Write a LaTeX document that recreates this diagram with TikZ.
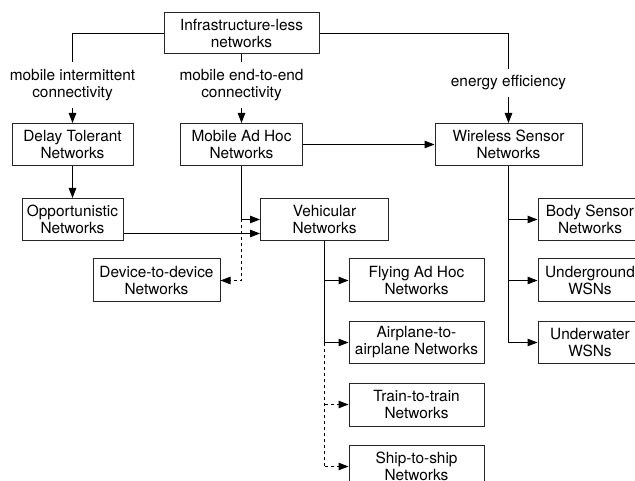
\documentclass[tikz,border=0pt]{standalone}
\usepackage{fontspec}
\setmainfont{TeX Gyre Heros}
\usetikzlibrary{arrows.meta}
\begin{document}
\begin{tikzpicture}[x=1pt,y=-1pt,
  every node/.style={font=\fontsize{15.4}{17}\selectfont, align=center, text=black},
  box/.style={draw=black!85, line width=1pt, inner sep=0pt},
  tag/.style={inner sep=0pt},
  link/.style={line width=1pt, draw=black},
  tip/.style={-{Triangle[length=10pt,width=7.5pt]}},
  arr/.style={link, tip},
  dsh/.style={dash pattern=on 3pt off 3pt}]
\path[use as bounding box, clip] (0,0) rectangle (635,481);

% boxes
\node[box, minimum width=155pt, minimum height=41pt] (infra) at (241.5,33.5) {Infrastructure-less\\networks};
\node[box, minimum width=121pt, minimum height=42pt] (dtn) at (72.5,144.5) {Delay Tolerant\\Networks};
\node[box, minimum width=122pt, minimum height=42pt] (manet) at (241.5,144.5) {Mobile Ad Hoc\\Networks};
\node[box, minimum width=147pt, minimum height=42pt] (wsn) at (508.5,144.5) {Wireless Sensor\\Networks};
\node[box, minimum width=101pt, minimum height=42pt] (opp) at (72.5,219.5) {Opportunistic\\Networks};
\node[box, minimum width=128pt, minimum height=42pt] (veh) at (324.5,219.5) {Vehicular\\Networks};
\node[box, minimum width=127pt, minimum height=43pt] (dev) at (156.5,280.5) {Device-to-device\\Networks};
\node[box, minimum width=135pt, minimum height=43pt] (fly) at (416.5,280.5) {Flying Ad Hoc\\Networks};
\node[box, minimum width=135pt, minimum height=41pt] (air) at (416.5,342.5) {Airplane-to-\\airplane Networks};
\node[box, minimum width=135pt, minimum height=43pt] (train) at (416.5,404.5) {Train-to-train\\Networks};
\node[box, minimum width=135pt, minimum height=42pt] (ship) at (416.5,466.5) {Ship-to-ship\\Networks};
\node[box, minimum width=104pt, minimum height=42pt] (body) at (590,219.5) {Body Sensor\\Networks};
\node[box, minimum width=104pt, minimum height=43pt] (ug) at (590,280.5) {Underground\\WSNs};
\node[box, minimum width=104pt, minimum height=42pt] (uw) at (590,342.5) {Underwater\\WSNs};

% edge labels
\node[tag, minimum height=46pt] (lmi) at (72.5,85) {mobile intermittent\\connectivity};
\node[tag, minimum height=46pt] (lme) at (241.5,85) {mobile end-to-end\\connectivity};
\node[tag, minimum height=28pt] (lee) at (508.5,83) {energy efficiency};

% top level
\draw[link] (infra.west) -| (lmi.north);
\draw[arr] (lmi.south) -- (dtn.north);
\draw[link] (infra.south) -- (lme.north);
\draw[arr] (lme.south) -- (manet.north);
\draw[link] (infra.east) -| (lee.north);
\draw[arr] (lee.south) -- (wsn.north);

% second level
\draw[arr] (manet.east) -- (wsn.west);
\draw[arr] (dtn.south) -- (opp.north);
\draw[arr] (manet.south) |- (veh.west);
\draw[arr] ([yshift=-14pt]opp.east) -- ([yshift=-14pt]opp.east -| veh.west);
\draw[link, dsh, tip] (manet.south |- veh.west) |- (dev.east);

% vehicular branch
\draw[link] (veh.south) -- (veh.south |- air.west);
\draw[arr] (veh.south |- fly.west) -- (fly.west);
\draw[arr] (veh.south |- air.west) -- (air.west);
\draw[link, dsh] (veh.south |- air.west) -- (veh.south |- ship.west);
\draw[link, dsh, tip] (veh.south |- train.west) -- (train.west);
\draw[link, dsh, tip] (veh.south |- ship.west) -- (ship.west);

% sensor branch
\draw[link] (wsn.south) -- (wsn.south |- uw.west);
\draw[arr] (wsn.south |- body.west) -- (body.west);
\draw[arr] (wsn.south |- ug.west) -- (ug.west);
\draw[arr] (wsn.south |- uw.west) -- (uw.west);
\end{tikzpicture}
\end{document}
